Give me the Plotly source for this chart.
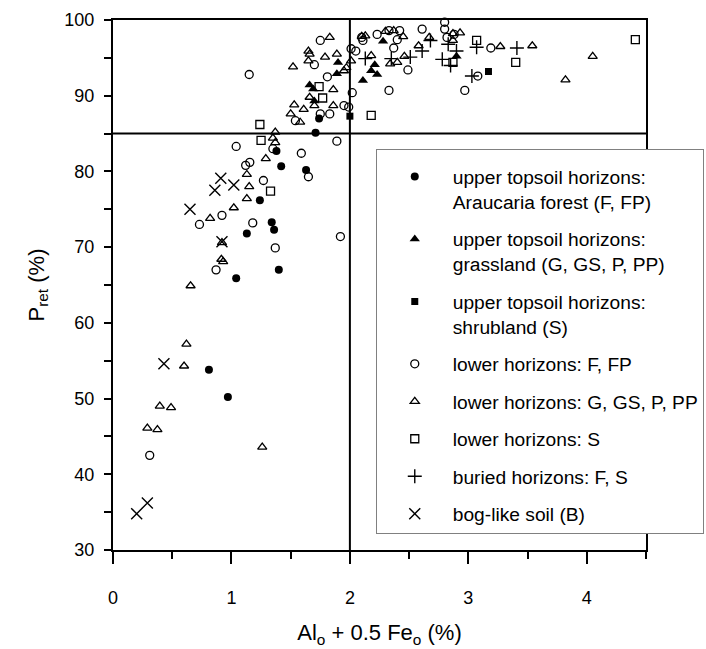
import plotly.graph_objects as go

# ---------------- data ----------------
upper_F_x = [0.81, 0.97, 1.24, 1.13, 1.34, 1.36, 1.04, 1.40, 1.42, 1.63, 1.71, 1.74, 1.38]
upper_F_y = [53.8, 50.2, 76.2, 71.8, 73.3, 72.3, 65.9, 67.0, 80.7, 80.2, 85.1, 87.0, 82.7]

upper_G_x = [1.90, 1.89, 1.66, 1.69, 1.70, 2.28, 2.21, 2.18, 2.23, 2.11, 2.90]
upper_G_y = [94.4, 92.9, 91.4, 90.9, 89.3, 97.2, 94.1, 93.3, 92.8, 92.0, 95.2]

upper_S_x = [2.00, 3.17]
upper_S_y = [87.3, 93.2]

lower_F_x = [0.31, 0.87, 0.73, 0.92, 1.18, 1.37, 1.92, 1.27, 1.12, 1.155, 1.04, 1.35, 1.59, 1.65,
             1.89, 1.54, 1.75, 1.83, 1.15, 1.75, 1.70, 1.81, 1.95, 1.99, 2.02, 2.33, 2.01, 2.05,
             2.10, 2.11, 2.23, 2.33, 2.42, 2.40, 2.37, 2.61, 2.49, 2.80, 2.80, 2.82, 2.88, 2.97,
             3.08, 3.19]
lower_F_y = [42.5, 67.0, 73.0, 74.2, 73.2, 69.9, 71.4, 78.8, 80.8, 81.2, 83.3, 83.0, 82.4, 79.3,
             84.0, 86.7, 87.6, 87.6, 92.8, 97.3, 94.1, 92.5, 88.7, 88.5, 90.4, 90.7, 96.2, 95.9,
             97.7, 97.3, 98.1, 98.6, 98.6, 97.4, 96.3, 98.8, 93.4, 99.7, 98.8, 97.7, 98.1, 90.7,
             92.6, 96.3]

lower_G_x = [0.395, 0.49, 0.29, 0.375, 1.26, 0.60, 0.62, 0.655, 0.915, 0.93, 0.82, 1.02, 1.13,
             1.15, 1.13, 1.29, 1.37, 1.35, 1.37, 0.92, 1.53, 1.61, 1.50, 1.58, 1.86, 1.70, 1.66,
             1.86, 1.83, 1.65, 1.66, 1.65, 1.79, 1.89, 1.52, 2.01, 1.97, 1.95, 2.10, 2.13, 2.30,
             2.37, 2.45, 2.18, 2.34, 2.40, 2.46, 2.58, 2.67, 2.87, 2.93, 2.87, 3.27, 3.54, 3.82,
             4.05]
lower_G_y = [49.0, 48.8, 46.1, 45.9, 43.6, 54.3, 57.2, 64.9, 68.4, 68.1, 73.8, 75.2, 76.4,
             78.0, 79.6, 81.7, 85.2, 84.4, 83.8, 70.6, 88.8, 88.2, 87.6, 86.5, 88.7, 88.7, 89.8,
             90.8, 97.7, 95.9, 95.5, 94.6, 95.1, 95.5, 93.8, 94.6, 93.7, 93.3, 97.85, 97.9, 98.5,
             98.6, 97.8, 95.3, 94.2, 94.4, 95.2, 96.6, 97.7, 98.2, 98.3, 97.3, 96.5, 96.6, 92.1,
             95.2]

lower_S_x = [1.24, 1.25, 1.33, 1.74, 1.77, 2.18, 3.07, 3.40, 4.41, 2.87]
lower_S_y = [86.2, 84.1, 77.4, 91.2, 89.7, 87.4, 97.3, 94.4, 97.4, 94.4]

buried_x = [2.13, 2.35, 2.51, 2.61, 2.68, 2.78, 2.85, 2.90, 2.83, 3.07, 3.03, 3.41]
buried_y = [94.9, 94.9, 95.1, 95.9, 97.3, 94.8, 94.0, 95.9, 96.8, 96.4, 92.6, 96.3]

bog_x = [0.20, 0.29, 0.43, 0.65, 0.86, 0.91, 1.02, 0.92]
bog_y = [34.8, 36.2, 54.6, 75.0, 77.5, 79.1, 78.2, 70.7]

x_threshold = 2.0
y_threshold = 85.0

# ---------------- figure ----------------
FONT = "Arial, Liberation Sans, sans-serif"
BLACK = "black"

series = [
    ("upper topsoil horizons:<br>Araucaria forest (F, FP)", upper_F_x, upper_F_y,
     dict(symbol="circle", size=8, color=BLACK, line=dict(width=0))),
    ("upper topsoil horizons:<br>grassland (G, GS, P, PP)", upper_G_x, upper_G_y,
     dict(symbol="triangle-up", size=9, color=BLACK, line=dict(width=0))),
    ("upper topsoil horizons:<br>shrubland (S)", upper_S_x, upper_S_y,
     dict(symbol="square", size=7, color=BLACK, line=dict(width=0))),
    ("lower horizons: F, FP", lower_F_x, lower_F_y,
     dict(symbol="circle-open", size=8, color=BLACK, line=dict(width=1.3, color=BLACK))),
    ("lower horizons: G, GS, P, PP", lower_G_x, lower_G_y,
     dict(symbol="triangle-up-open", size=8, color=BLACK, line=dict(width=1.3, color=BLACK))),
    ("lower horizons: S", lower_S_x, lower_S_y,
     dict(symbol="square-open", size=8, color=BLACK, line=dict(width=1.3, color=BLACK))),
    ("buried horizons: F, S", buried_x, buried_y,
     dict(symbol="cross-thin-open", size=10, color=BLACK, line=dict(width=1.4, color=BLACK))),
    ("bog-like soil (B)", bog_x, bog_y,
     dict(symbol="x-thin-open", size=11, color=BLACK, line=dict(width=1.4, color=BLACK))),
]

fig = go.Figure()
for i, (name, xs, ys, mk) in enumerate(series):
    fig.add_trace(go.Scatter(x=xs, y=ys, mode="markers", name=name, marker=mk,
                             legendgroup=f"g{i}", cliponaxis=False))

fig.add_shape(type="line", xref="x", yref="y", x0=x_threshold, x1=x_threshold, y0=30, y1=100,
              line=dict(color=BLACK, width=2), layer="below")
fig.add_shape(type="line", xref="x", yref="y", x0=0, x1=4.5, y0=y_threshold, y1=y_threshold,
              line=dict(color=BLACK, width=2), layer="below")

fig.update_layout(
    width=706, height=649,
    margin=dict(l=113, r=60, t=20, b=99, autoexpand=False),
    paper_bgcolor="white", plot_bgcolor="white",
    font=dict(family=FONT, size=18, color=BLACK),
    showlegend=True,
    legend=dict(
        x=0.493, y=0.757, xanchor="left", yanchor="top",
        bgcolor="white", bordercolor="#808080", borderwidth=1,
        font=dict(family=FONT, size=19.2, color=BLACK),
        valign="top", tracegroupgap=9.5, itemwidth=66,
        title=dict(text=" ", font=dict(size=6)),
    ),
    xaxis=dict(
        range=[0, 4.5], dtick=1, tick0=0, showgrid=False, zeroline=False,
        showline=True, linewidth=2, linecolor=BLACK, mirror=True,
        ticks="outside", ticklen=12, tickwidth=2, tickcolor=BLACK,
        minor=dict(dtick=0.5, ticks="outside", ticklen=7, tickwidth=2, tickcolor=BLACK),
        ticklabelstandoff=18,
        title=dict(text="Al<sub>o</sub> + 0.5 Fe<sub>o</sub> (%)", font=dict(size=22), standoff=18),
    ),
    yaxis=dict(
        range=[30, 100], dtick=10, tick0=30, showgrid=False, zeroline=False,
        showline=True, linewidth=2, linecolor=BLACK, mirror=True,
        ticks="outside", ticklen=7, tickwidth=2, tickcolor=BLACK,
        minor=dict(dtick=5, ticks="outside", ticklen=7, tickwidth=2, tickcolor=BLACK),
        ticklabelstandoff=6,
        title=dict(text="P<sub>ret</sub> (%)", font=dict(size=22), standoff=14),
    ),
)

fig.write_html("out.html")
